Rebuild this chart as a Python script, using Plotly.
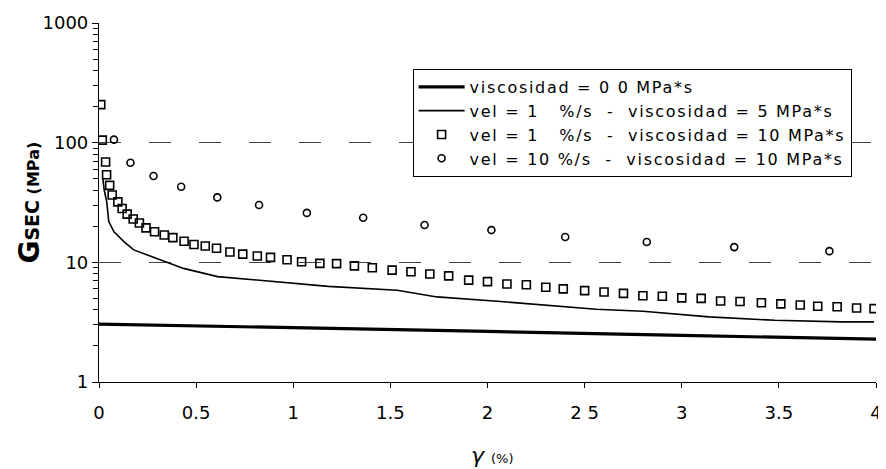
import plotly.graph_objects as go

# ---- data ----
x_visc0 = [0.0, 1.0, 2.0, 3.0, 4.0]
y_visc0 = [3.05, 2.85, 2.65, 2.45, 2.28]

x_visc5 = [0.02, 0.027, 0.04, 0.05, 0.077, 0.128, 0.179, 0.247, 0.316, 0.384, 0.435,
           0.61, 0.82, 1.02, 1.18, 1.535, 1.74, 2.05, 2.46, 2.56, 2.80, 3.14, 3.48, 3.82, 3.99]
y_visc5 = [50, 40, 32, 22, 18, 14.9, 12.7, 11.6, 10.5, 9.6, 8.9,
           7.6, 7.1, 6.6, 6.3, 5.85, 5.14, 4.73, 4.16, 4.06, 3.9, 3.5, 3.28, 3.18, 3.18]

x_sq = [0.009, 0.017, 0.034, 0.039, 0.055, 0.068, 0.097, 0.119, 0.145, 0.176, 0.208,
        0.242, 0.286, 0.336, 0.38, 0.438, 0.489, 0.547, 0.605, 0.674, 0.74, 0.815,
        0.883, 0.968, 1.043, 1.137, 1.223, 1.315, 1.407, 1.509, 1.606, 1.703, 1.80,
        1.903, 2.0, 2.10, 2.20, 2.30, 2.39, 2.50, 2.60, 2.70, 2.80, 2.90, 3.0, 3.10,
        3.20, 3.30, 3.41, 3.51, 3.61, 3.70, 3.80, 3.90, 3.99]
y_sq = [208, 105, 69, 54, 44, 36.5, 32, 28.2, 25.3, 23, 21.3,
        19.4, 18, 16.9, 16.1, 15.0, 14.1, 13.7, 13.1, 12.2, 11.7, 11.3,
        11.0, 10.5, 10.1, 9.8, 9.75, 9.35, 9.0, 8.6, 8.35, 8.0, 7.7,
        7.1, 6.9, 6.6, 6.5, 6.2, 6.0, 5.8, 5.65, 5.5, 5.25, 5.2, 5.05, 5.0,
        4.75, 4.7, 4.6, 4.5, 4.4, 4.3, 4.25, 4.15, 4.1]

x_ci = [0.077, 0.162, 0.281, 0.423, 0.609, 0.824, 1.07, 1.36, 1.676, 2.02, 2.40, 2.82, 3.27, 3.76]
y_ci = [106, 68, 52.6, 42.8, 34.9, 30.1, 25.9, 23.6, 20.5, 18.6, 16.3, 14.8, 13.4, 12.4]

x_tickvals = [0, 0.5, 1, 1.5, 2, 2.5, 3, 3.5, 4]
x_ticktext = ["0", "0.5", "1", "1.5", "2", "2 5", "3", "3.5", "4"]
y_tickvals = [1, 10, 100, 1000]
y_ticktext = ["1", "10", "100", "1000"]

names = [
    "viscosidad = 0 0 MPa*s",
    "vel = 1\u00a0\u00a0\u00a0%/s\u00a0\u00a0-\u00a0\u00a0viscosidad = 5 MPa*s",
    "vel = 1\u00a0\u00a0\u00a0%/s\u00a0\u00a0-\u00a0\u00a0viscosidad = 10 MPa*s",
    "vel = 10 %/s\u00a0\u00a0-\u00a0\u00a0viscosidad = 10 MPa*s",
]
SPACED = "<span style='letter-spacing:1.7px'>{}</span>"

FONT = "DejaVu Sans"

fig = go.Figure()
fig.add_trace(go.Scatter(x=x_visc0, y=y_visc0, mode="lines", name=SPACED.format(names[0]),
                         line=dict(color="black", width=3.2)))
fig.add_trace(go.Scatter(x=x_visc5, y=y_visc5, mode="lines", name=SPACED.format(names[1]),
                         line=dict(color="black", width=1.6)))
fig.add_trace(go.Scatter(x=x_sq, y=y_sq, mode="markers", name=SPACED.format(names[2]),
                         marker=dict(symbol="square-open", size=8, color="black",
                                     line=dict(width=1.6, color="black"))))
fig.add_trace(go.Scatter(x=x_ci, y=y_ci, mode="markers", name=SPACED.format(names[3]),
                         marker=dict(symbol="circle-open", size=7, color="black",
                                     line=dict(width=1.6, color="black"))))

# the page body adds an 8px offset, so the figure is drawn 8px smaller
fig.update_layout(
    width=878, height=461,
    margin=dict(l=91, r=4, t=15, b=87),
    paper_bgcolor="white", plot_bgcolor="white",
    font=dict(family=FONT, size=17, color="black"),
    showlegend=True,
    legend=dict(x=0.4036, y=0.872, xanchor="left", yanchor="top",
                bgcolor="white", bordercolor="black", borderwidth=1,
                font=dict(family=FONT, size=16, color="black"),
                itemwidth=46, tracegroupgap=0),
    xaxis=dict(range=[0, 4], tickvals=x_tickvals, ticktext=x_ticktext,
               showline=True, linecolor="black", linewidth=1.2,
               ticks="outside", ticklen=5, tickcolor="black",
               ticklabelstandoff=9, ticklabeloverflow="allow",
               showgrid=False, zeroline=False,
               tickfont=dict(family=FONT, size=18)),
    yaxis=dict(type="log", range=[0, 3], tickvals=y_tickvals, ticktext=y_ticktext,
               showline=True, linecolor="black", linewidth=1.2,
               ticks="outside", ticklen=6, tickcolor="black",
               showgrid=True, gridcolor="#444", gridwidth=1, griddash="22px,28px",
               zeroline=False,
               minor=dict(ticks="outside", ticklen=5, tickcolor="black", tickwidth=1,
                          dtick="D1", showgrid=False),
               tickfont=dict(family=FONT, size=18)),
)

fig.add_annotation(text="<b>G</b><b><span style='font-size:19px'>SEC</span></b>"
                        "<b><span style='font-size:16px'> (MPa)</span></b>",
                   xref="paper", yref="paper", x=-0.09, y=0.5, xanchor="center",
                   yanchor="middle", textangle=-90, showarrow=False,
                   font=dict(family=FONT, size=28, color="black"))
fig.add_annotation(text="<i>γ</i> <span style='font-size:13px'>(%)</span>",
                   xref="paper", yref="paper", x=0.506, y=-0.205, xanchor="center",
                   yanchor="middle", showarrow=False,
                   font=dict(family=FONT, size=22, color="black"))

fig.write_html("out.html")
